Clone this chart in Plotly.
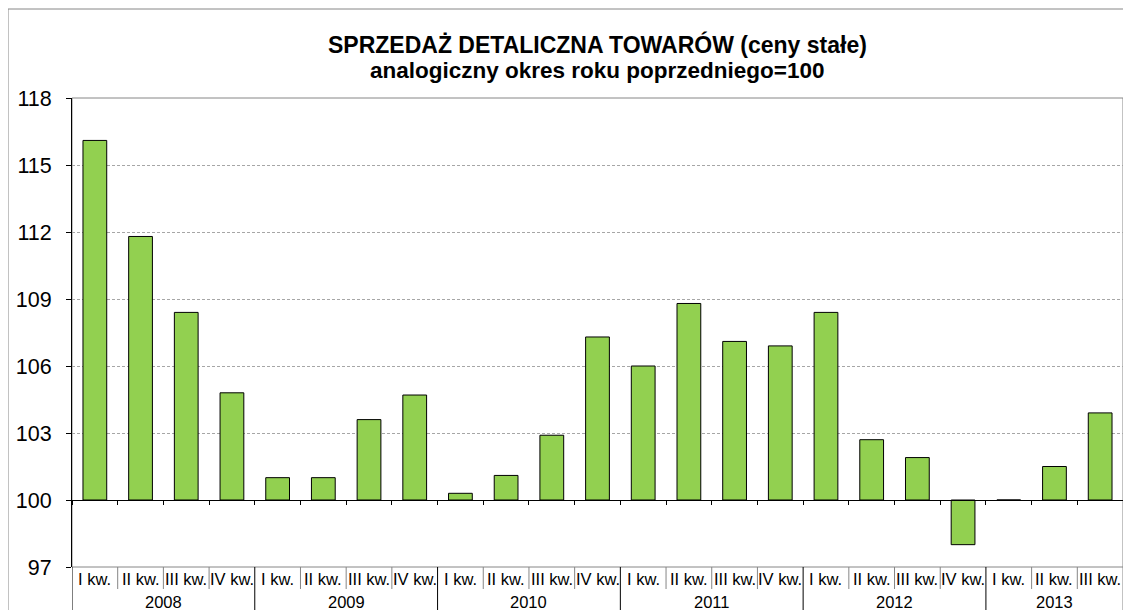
import plotly.graph_objects as go

quarters = ["I kw.", "II kw.", "III kw.", "IV kw.",
            "I kw.", "II kw.", "III kw.", "IV kw.",
            "I kw.", "II kw.", "III kw.", "IV kw.",
            "I kw.", "II kw.", "III kw.", "IV kw.",
            "I kw.", "II kw.", "III kw.", "IV kw.",
            "I kw.", "II kw.", "III kw."]
years = ["2008"] * 4 + ["2009"] * 4 + ["2010"] * 4 + ["2011"] * 4 + ["2012"] * 4 + ["2013"] * 3
values = [116.1, 111.8, 108.4, 104.8,
          101.0, 101.0, 103.6, 104.7,
          100.3, 101.1, 102.9, 107.3,
          106.0, 108.8, 107.1, 106.9,
          108.4, 102.7, 101.9, 98.0,
          100.0, 101.5, 103.9]
base_value = 100
y_ticks = [97, 100, 103, 106, 109, 112, 115, 118]

FONT = "Arial, 'Liberation Sans', sans-serif"
# the page body adds an 8px offset, so the figure is 8px smaller in each direction
OFF = 8
W, H = 1131 - OFF, 610 - OFF
ML, MR, MT, MB = 72 - OFF, 8, 98 - OFF, 43
PW = W - ML - MR
PH = H - MT - MB
plot_bottom_win = MT + OFF + PH

n = len(values)
xs = list(range(n))
ymin, ymax = y_ticks[0], y_ticks[-1]

fig = go.Figure()
fig.add_trace(go.Bar(
    x=xs, y=[v - base_value for v in values], base=base_value,
    width=0.52,
    marker=dict(color="#92D050", line=dict(color="#000000", width=1)),
    hoverinfo="skip", showlegend=False,
))

def py(px_below):
    return -px_below / PH

shapes = []
# plot area border
shapes.append(dict(type="rect", xref="paper", yref="paper", x0=0, x1=1, y0=0, y1=1,
                   line=dict(color="#868686", width=1), layer="below"))
# outer chart border (window x=8, y=9)
shapes.append(dict(type="rect", xref="paper", yref="paper",
                   x0=(8 - (ML + OFF)) / PW, x1=(1131 + 20 - (ML + OFF)) / PW,
                   y0=(plot_bottom_win - 9) / PH, y1=-(MB + 20) / PH,
                   line=dict(color="#868686", width=1), layer="below"))

# category separators in the label area
year_bounds = [-0.5]
for i in range(1, n):
    if years[i] != years[i - 1]:
        year_bounds.append(i - 0.5)
year_bounds.append(n - 0.5)
for i in range(n + 1):
    b = i - 0.5
    if b in year_bounds:
        col = "#868686" if b == n - 0.5 else "#000000"
        shapes.append(dict(type="line", xref="x", yref="paper", x0=b, x1=b,
                           y0=0, y1=py(MB + 5), line=dict(color=col, width=1)))
    else:
        shapes.append(dict(type="line", xref="x", yref="paper", x0=b, x1=b,
                           y0=0, y1=py(22), line=dict(color="#868686", width=1)))

annotations = []
for i, q in enumerate(quarters):
    annotations.append(dict(x=i, y=py(12), xref="x", yref="paper", text=q,
                            showarrow=False, xanchor="center", yanchor="middle",
                            font=dict(family=FONT, size=16.5, color="#000000")))
for k in range(len(year_bounds) - 1):
    a, b = year_bounds[k], year_bounds[k + 1]
    annotations.append(dict(x=(a + b) / 2, y=py(35), xref="x", yref="paper",
                            text=years[int(a + 0.5)], showarrow=False,
                            xanchor="center", yanchor="middle",
                            font=dict(family=FONT, size=16.5, color="#000000")))

# title lines (centres at window y=45 and y=70)
annotations.append(dict(x=0.5, y=(plot_bottom_win - 45) / PH, xref="paper", yref="paper",
                        text="<b>SPRZEDAŻ DETALICZNA TOWARÓW (ceny stałe)</b>",
                        showarrow=False, xanchor="center", yanchor="middle",
                        font=dict(family=FONT, size=23, color="#000000")))
annotations.append(dict(x=0.5, y=(plot_bottom_win - 70) / PH, xref="paper", yref="paper",
                        text="<b>analogiczny okres roku poprzedniego=100</b>",
                        showarrow=False, xanchor="center", yanchor="middle",
                        font=dict(family=FONT, size=22.5, color="#000000")))

fig.update_layout(
    width=W, height=H,
    margin=dict(l=ML, r=MR, t=MT, b=MB, pad=0),
    paper_bgcolor="#FFFFFF", plot_bgcolor="#FFFFFF",
    shapes=shapes, annotations=annotations,
    xaxis=dict(
        range=[-0.5, n - 0.5],
        anchor="free", position=(base_value - ymin) / (ymax - ymin),
        showline=True, linecolor="#000000", linewidth=1,
        ticks="outside", ticklen=4, tickcolor="#000000", tickwidth=1,
        tickvals=[i - 0.5 for i in range(n + 1)],
        showticklabels=False, showgrid=False, zeroline=False,
    ),
    yaxis=dict(
        range=[ymin, ymax], tickvals=y_ticks,
        showline=True, linecolor="#000000", linewidth=1,
        ticks="outside", ticklen=5, tickcolor="#000000",
        tickfont=dict(family=FONT, size=21.5, color="#000000"),
        ticklabelstandoff=10,
        showgrid=True, gridcolor="#A6A6A6", gridwidth=1, griddash="3px,2px",
        zeroline=False,
    ),
    font=dict(family=FONT),
)

fig.write_html("out.html")
